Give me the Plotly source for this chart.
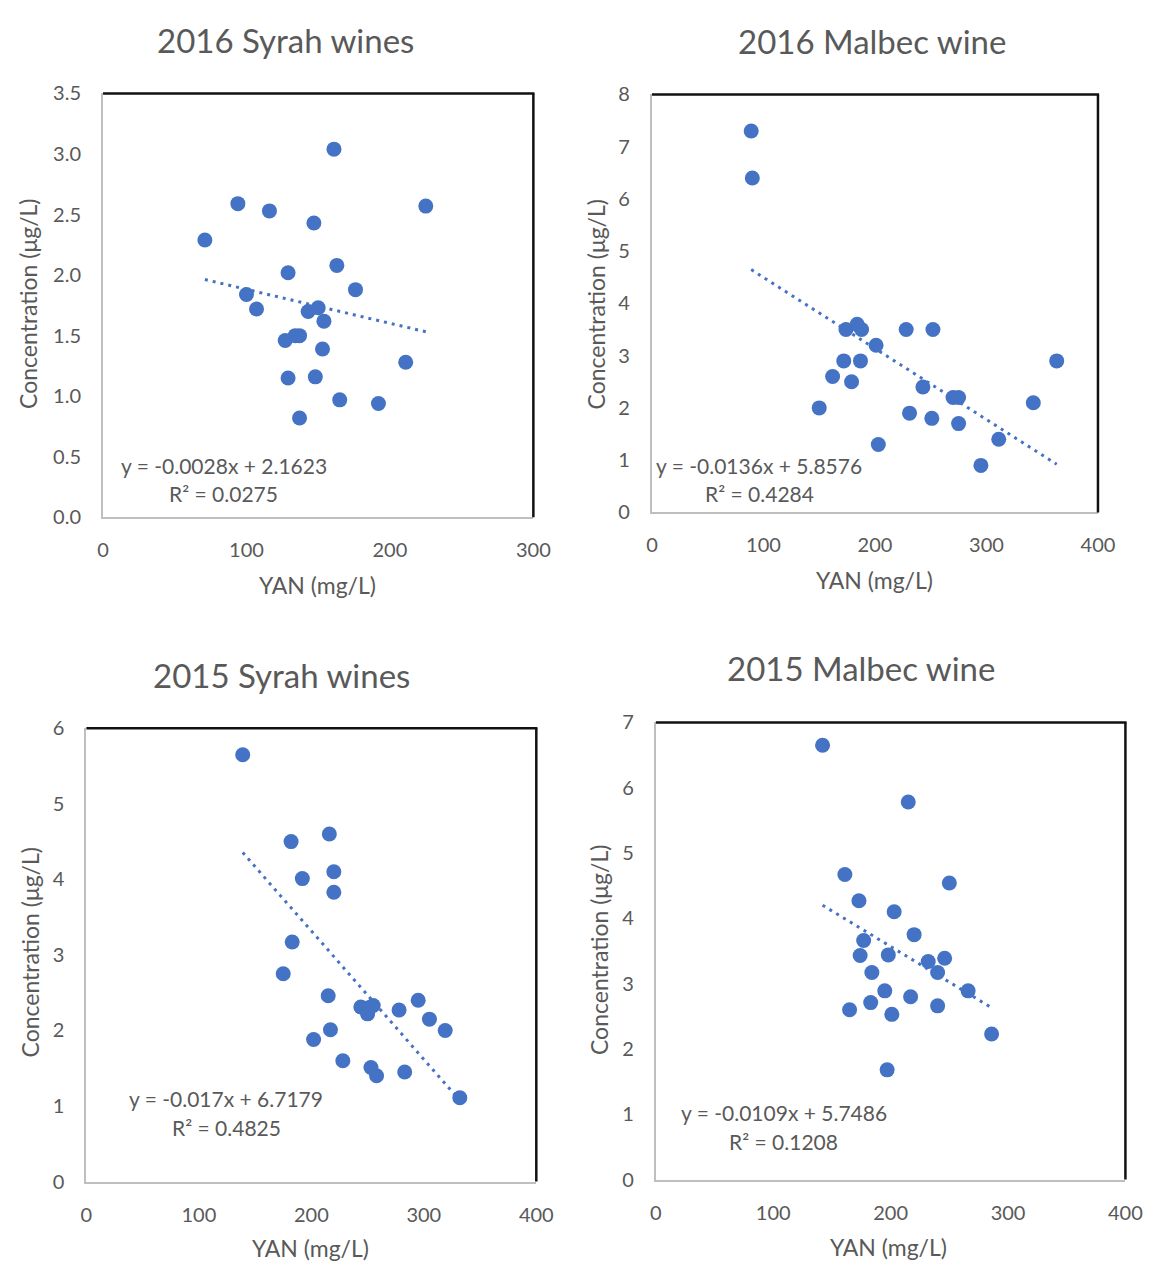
import plotly.graph_objects as go

W, H = 1163, 1274

# ---------------- data ----------------
titles = ["2016 Syrah wines", "2016 Malbec wine", "2015 Syrah wines", "2015 Malbec wine"]
x_title = "YAN (mg/L)"
y_title = "Concentration (μg/L)"

syrah16_yan = [71, 94, 116, 147, 161, 225, 163, 129, 176, 100, 107, 143, 150, 154,
               127, 134, 137, 153, 211, 129, 148, 165, 192, 137]
syrah16_conc = [2.29, 2.59, 2.53, 2.43, 3.04, 2.57, 2.08, 2.02, 1.88, 1.84, 1.72, 1.70, 1.73, 1.62,
                1.46, 1.50, 1.50, 1.39, 1.28, 1.15, 1.16, 0.97, 0.94, 0.82]

malbec16_yan = [89, 90, 174, 184, 188, 201, 228, 252, 172, 187, 162, 179, 150, 243,
                270, 275, 342, 231, 251, 275, 311, 203, 295, 363]
malbec16_conc = [7.3, 6.4, 3.5, 3.6, 3.5, 3.2, 3.5, 3.5, 2.9, 2.9, 2.6, 2.5, 2.0, 2.4,
                 2.2, 2.2, 2.1, 1.9, 1.8, 1.7, 1.4, 1.3, 0.9, 2.9]

syrah15_yan = [139, 182, 216, 192, 220, 220, 183, 175, 215, 244, 251, 250, 255,
               278, 295, 305, 319, 217, 202, 228, 253, 258, 283, 332]
syrah15_conc = [5.65, 4.50, 4.60, 4.01, 4.10, 3.83, 3.17, 2.75, 2.46, 2.31, 2.30, 2.22, 2.33,
                2.27, 2.40, 2.15, 2.00, 2.01, 1.88, 1.60, 1.51, 1.40, 1.45, 1.11]

malbec15_yan = [142, 215, 161, 250, 173, 203, 220, 177, 174, 198, 232, 246, 184, 240,
                195, 266, 217, 183, 240, 165, 201, 286, 197]
malbec15_conc = [6.65, 5.78, 4.67, 4.54, 4.27, 4.10, 3.75, 3.66, 3.43, 3.44, 3.34, 3.39, 3.17, 3.17,
                 2.89, 2.89, 2.80, 2.71, 2.66, 2.60, 2.53, 2.23, 1.68]

trend_slope = [-0.0028, -0.0136, -0.017, -0.0109]
trend_intercept = [2.1623, 5.8576, 6.7179, 5.7486]
equations = ["y = -0.0028x + 2.1623", "y = -0.0136x + 5.8576", "y = -0.017x + 6.7179", "y = -0.0109x + 5.7486"]
r2_labels = ["R² = 0.0275", "R² = 0.4284", "R² = 0.4825", "R² = 0.1208"]

x_ranges = [[0, 300], [0, 400], [0, 400], [0, 400]]
y_ranges = [[0, 3.5], [0, 8], [0, 6], [0, 7]]
y_dticks = [0.5, 1, 1, 1]
y_formats = [".1f", "d", "d", "d"]

series = [(syrah16_yan, syrah16_conc), (malbec16_yan, malbec16_conc),
          (syrah15_yan, syrah15_conc), (malbec15_yan, malbec15_conc)]

# ---------------- layout helpers (pixel geometry) ----------------
boxes = [(99, 538, 82, 514), (659, 1114, 83, 509), (82, 541, 729, 1191), (663, 1142, 723, 1189)]
title_pos = [(285, 28), (883, 29), (281, 675), (872, 668)]
xtitle_pos = [(318, 583), (886, 578), (311, 1259), (900, 1258)]
ytitle_pos = [(23, 297), (602, 297), (24, 958), (605, 955)]
eq_pos = [(115, 461), (661, 461), (123, 1106), (687, 1121)]
r2_pos = [(164, 490), (711, 490), (167, 1136), (736, 1150)]

def px(x, y):
    return x / W, 1 - y / H

TXT = "#595959"
FONT = "Lato"
BLUE = "#4472C4"

fig = go.Figure()
annotations = []
shapes = []
layout_axes = {}

for i in range(4):
    n = "" if i == 0 else str(i + 1)
    xa, ya = "x" + n, "y" + n
    L, R, T, B = boxes[i]
    xs, ys = series[i]
    fig.add_trace(go.Scatter(x=xs, y=ys, mode="markers", xaxis=xa, yaxis=ya,
                             marker=dict(color=BLUE, size=15), showlegend=False))
    x0, x1 = min(xs), max(xs)
    fig.add_trace(go.Scatter(x=[x0, x1],
                             y=[trend_slope[i] * x0 + trend_intercept[i], trend_slope[i] * x1 + trend_intercept[i]],
                             mode="lines", xaxis=xa, yaxis=ya, showlegend=False,
                             line=dict(color=BLUE, width=3, dash="3px,5px")))
    layout_axes["xaxis" + n] = dict(
        domain=[L / W, R / W], range=x_ranges[i], dtick=100, tick0=0, anchor=ya,
        showgrid=False, zeroline=False, showline=True, linecolor="#BFBFBF", linewidth=2,
        ticks="outside", ticklen=14, tickcolor="rgba(0,0,0,0)",
        tickfont=dict(family=FONT, size=20, color=TXT), fixedrange=True)
    layout_axes["yaxis" + n] = dict(
        domain=[1 - B / H, 1 - T / H], range=y_ranges[i], dtick=y_dticks[i], tick0=0, anchor=xa,
        tickformat=y_formats[i],
        showgrid=False, zeroline=False, showline=True, linecolor="#BFBFBF", linewidth=2,
        ticks="outside", ticklen=16, tickcolor="rgba(0,0,0,0)",
        tickfont=dict(family=FONT, size=20, color=TXT), fixedrange=True)
    shapes.append(dict(type="line", xref=xa + " domain", yref=ya + " domain", x0=0, x1=1.0025, y0=1, y1=1,
                       line=dict(color="#111111", width=2.5), layer="above"))
    shapes.append(dict(type="line", xref=xa + " domain", yref=ya + " domain", x0=1, x1=1, y0=0, y1=1,
                       line=dict(color="#111111", width=2.5), layer="above"))
    tx, ty = px(*title_pos[i])
    annotations.append(dict(text=titles[i], x=tx, y=ty, xref="paper", yref="paper", showarrow=False,
                            xanchor="center", yanchor="middle", font=dict(family=FONT, size=33, color=TXT)))
    ax_, ay_ = px(*xtitle_pos[i])
    annotations.append(dict(text=x_title, x=ax_, y=ay_, xref="paper", yref="paper", showarrow=False,
                            xanchor="center", yanchor="middle", font=dict(family=FONT, size=23, color=TXT)))
    bx, by = px(*ytitle_pos[i])
    annotations.append(dict(text=y_title, x=bx, y=by, xref="paper", yref="paper", showarrow=False,
                            textangle=-90, xanchor="center", yanchor="middle",
                            font=dict(family=FONT, size=23, color=TXT)))
    ex, ey = px(*eq_pos[i])
    annotations.append(dict(text=equations[i], x=ex, y=ey, xref="paper", yref="paper", showarrow=False,
                            xanchor="left", yanchor="middle", font=dict(family=FONT, size=21, color=TXT)))
    rx, ry = px(*r2_pos[i])
    annotations.append(dict(text=r2_labels[i], x=rx, y=ry, xref="paper", yref="paper", showarrow=False,
                            xanchor="left", yanchor="middle", font=dict(family=FONT, size=21, color=TXT)))

fig.update_layout(width=W, height=H, margin=dict(l=0, r=0, t=0, b=0),
                  paper_bgcolor="white", plot_bgcolor="white",
                  annotations=annotations, shapes=shapes, **layout_axes)

fig.write_html("out.html", config={"displayModeBar": False})
